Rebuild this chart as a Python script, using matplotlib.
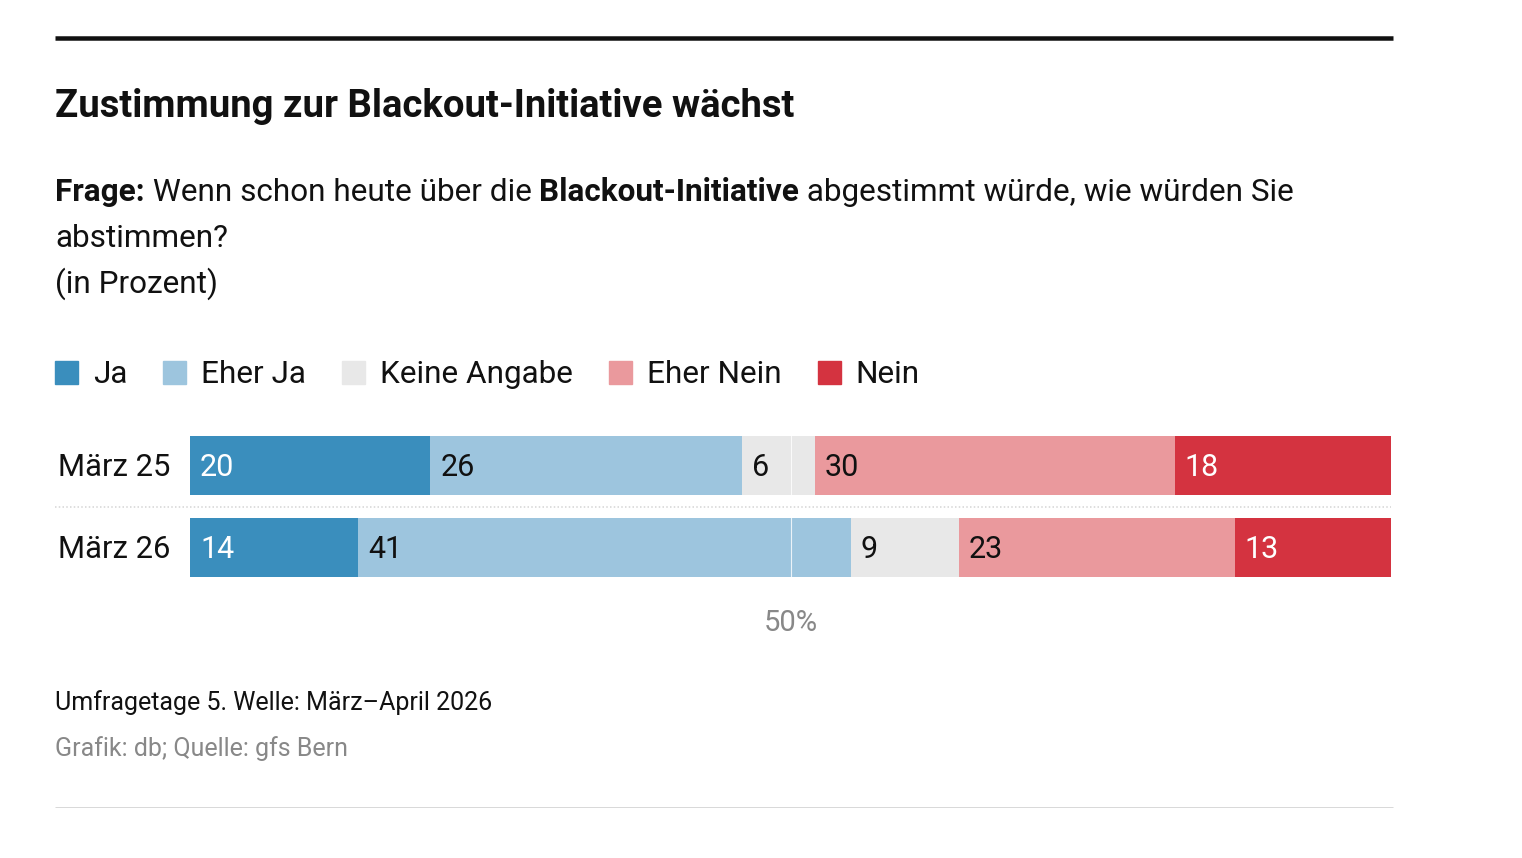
import matplotlib
matplotlib.use("Agg")
import matplotlib.pyplot as plt
from matplotlib.lines import Line2D
from matplotlib.patches import Rectangle

# data
rows = ["März 25", "März 26"]
categories = ["Ja", "Eher Ja", "Keine Angabe", "Eher Nein", "Nein"]
values_2025 = [20, 26, 6, 30, 18]
values_2026 = [14, 41, 9, 23, 13]
colors = ["#3a8ebd", "#9dc5de", "#e8e8e8", "#ea999d", "#d43340"]
label_colors = ["white", "#111111", "#111111", "#111111", "white"]

title = "Zustimmung zur Blackout-Initiative wächst"
question = [("Frage:", "bold"), (" Wenn schon heute über die ", "normal"),
            ("Blackout-Initiative", "bold"),
            (" abgestimmt würde, wie würden Sie", "normal")]
question_rest = ["abstimmen?", "(in Prozent)"]
note = "Umfragetage 5. Welle: März–April 2026"
source = "Grafik: db; Quelle: gfs Bern"

W, H = 1522, 858
plt.rcParams["font.family"] = ["Roboto", "DejaVu Sans"]

fig = plt.figure(figsize=(W / 100, H / 100), dpi=100)
fig.patch.set_facecolor("white")
renderer = fig.canvas.get_renderer()

TXT = 22.7


def fx(px):
    return px / W


def fy(py):
    return 1 - py / H


def hline(x0, x1, y, lw_px, color, ls="-"):
    fig.add_artist(Line2D([fx(x0), fx(x1)], [fy(y), fy(y)], lw=lw_px * 0.72,
                          color=color, linestyle=ls, solid_capstyle="butt"))


# rules top and bottom
hline(55, 1393, 38, 4.5, "#111111")
hline(55, 1393, 807, 1, "#d9d9d9")

# title and question
fig.text(fx(55), fy(117), title, fontsize=27.5, fontweight="bold",
         color="#111111", va="baseline")

x = 55
for txt, weight in question:
    t = fig.text(fx(x), fy(201), txt, fontsize=TXT, fontweight=weight,
                 color="#111111", va="baseline")
    x += t.get_window_extent(renderer=renderer).width
for i, txt in enumerate(question_rest):
    fig.text(fx(55), fy(247 + 46 * i), txt, fontsize=TXT, color="#111111",
             va="baseline")

# legend, laid out left to right
x = 55
for cat, col in zip(categories, colors):
    fig.add_artist(Rectangle((fx(x), fy(384)), 23 / W, 23 / H, color=col,
                             transform=fig.transFigure))
    t = fig.text(fx(x + 38), fy(383), cat, fontsize=TXT, color="#111111",
                 va="baseline")
    x += 38 + t.get_window_extent(renderer=renderer).width + 36

# bars
ax = fig.add_axes([fx(190), fy(577), (1391 - 190) / W, (577 - 436) / H])
ax.set_xlim(0, 100)
ax.set_ylim(1.36, -0.36)
ax.axis("off")

for r, vals in enumerate([values_2025, values_2026]):
    left = 0
    for v, col, lc in zip(vals, colors, label_colors):
        ax.barh(r, v, left=left, height=0.72, color=col, linewidth=0)
        ax.annotate(str(v), (left, r), xytext=(7.2, -7.9),
                    textcoords="offset points", va="baseline", ha="left",
                    fontsize=22, color=lc)
        left += v
    ax.annotate(rows[r], (0, r), xytext=(-14.4, -7.9),
                textcoords="offset points", va="baseline", ha="right",
                fontsize=22.3, color="#111111", annotation_clip=False)

ax.axvline(50, color="white", lw=0.8, alpha=0.8)
ax.annotate("50%", (50, 1.36), xytext=(0, -39), textcoords="offset points",
            va="baseline", ha="center", fontsize=21, color="#888888",
            annotation_clip=False)

# dotted separator between the rows
hline(55, 1391, 507, 1.5, "#d4d4d4", ls=(0, (1, 1.5)))

# footer
fig.text(fx(55), fy(710), note, fontsize=18, color="#111111", va="baseline")
fig.text(fx(55), fy(756), source, fontsize=18, color="#888888",
         va="baseline")

fig.savefig("out.png", dpi=100)
